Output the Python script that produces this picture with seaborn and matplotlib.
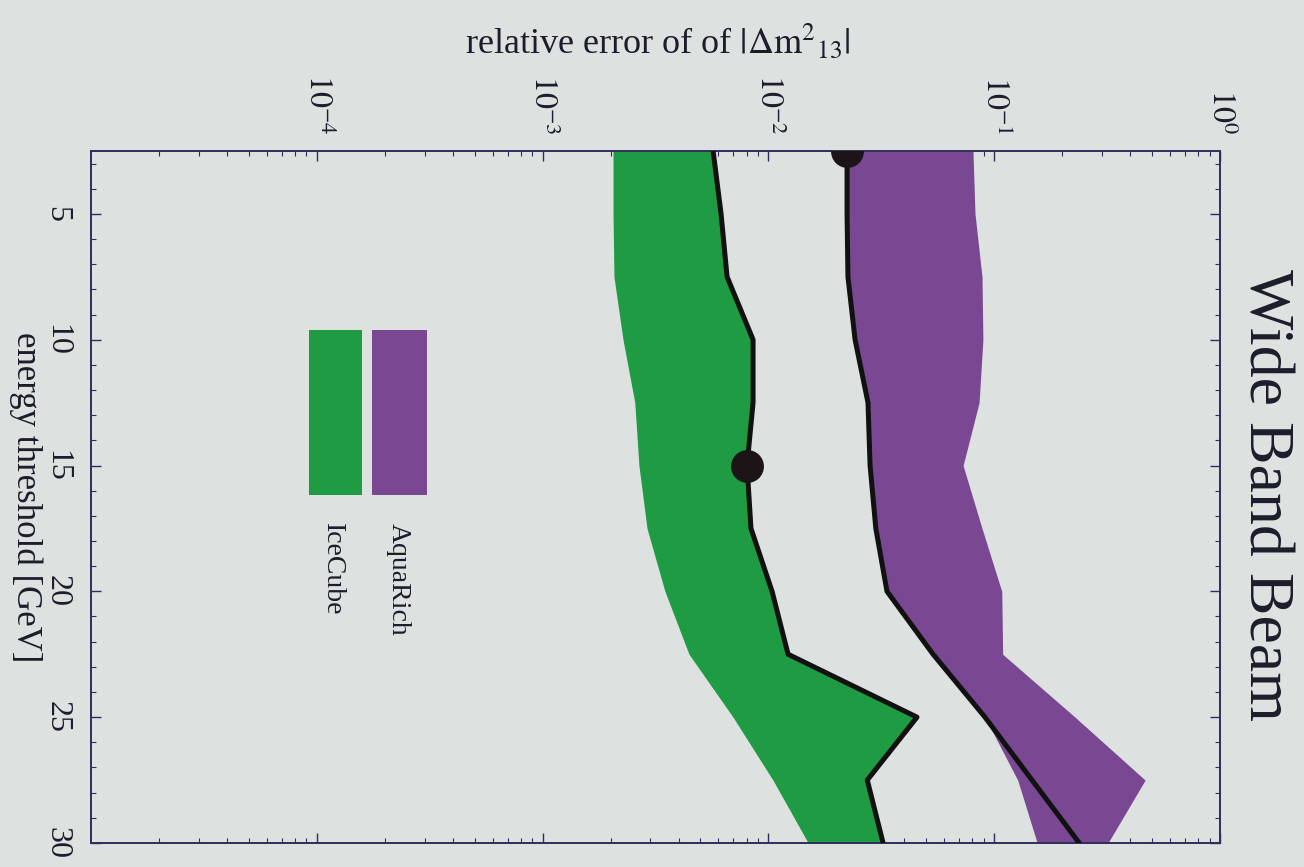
import numpy as np
import pandas as pd
import matplotlib
matplotlib.use("Agg")
import matplotlib.pyplot as plt
from matplotlib.patches import Rectangle
from matplotlib.ticker import FixedLocator, LogLocator, NullFormatter, MultipleLocator, FuncFormatter
import seaborn as sns

# Energy threshold [GeV]
energy = [2.5, 5, 7.5, 10, 12.5, 15, 17.5, 20, 22.5, 25, 27.5, 30]

# IceCube: band of relative errors (upper edge is the traced curve)
icecube_low = [2.05e-3, 2.05e-3, 2.07e-3, 2.27e-3, 2.56e-3, 2.67e-3,
               2.90e-3, 3.48e-3, 4.45e-3, 6.97e-3, 1.047e-2, 1.50e-2]
icecube_high = [5.69e-3, 6.17e-3, 6.56e-3, 8.55e-3, 8.55e-3, 8.04e-3,
                8.37e-3, 1.038e-2, 1.222e-2, 4.55e-2, 2.74e-2, 3.22e-2]

# AquaRich: band of relative errors and the traced curve
aquarich_low = [2.23e-2, 2.23e-2, 2.25e-2, 2.42e-2, 2.76e-2, 2.82e-2,
                2.99e-2, 3.35e-2, 5.36e-2, 9.10e-2, 0.127, 0.155]
aquarich_high = [8.05e-2, 8.22e-2, 8.83e-2, 8.91e-2, 8.57e-2, 7.28e-2,
                 8.83e-2, 0.108, 0.109, 0.228, 0.466, 0.319]
aquarich_line = [2.23e-2, 2.23e-2, 2.25e-2, 2.42e-2, 2.76e-2, 2.82e-2,
                 2.99e-2, 3.35e-2, 5.36e-2, 9.10e-2, 0.147, 0.238]

# highlighted points: (energy, relative error)
icecube_mark = (15, 8.04e-3)
aquarich_mark = (2.5, 2.23e-2)

x_ticks = [1e-4, 1e-3, 1e-2, 1e-1, 1e0]
e_ticks = [5, 10, 15, 20, 25, 30]

green = "#1f9b44"
purple = "#7a4893"
bg = "#dde2e0"
ink = "#1c1c2a"
frame = "#2e2e5c"

sns.set_style("ticks", rc={"axes.facecolor": bg, "figure.facecolor": bg,
                           "axes.edgecolor": frame, "text.color": ink,
                           "axes.labelcolor": ink, "xtick.color": ink,
                           "ytick.color": ink})
plt.rcParams["font.family"] = ["Liberation Serif", "DejaVu Serif"]
plt.rcParams["mathtext.fontset"] = "stix"

fig = plt.figure(figsize=(13.04, 8.67), dpi=100)
ax = fig.add_axes([0.0698, 0.0277, 0.8658, 0.7982])
ax.set_xscale("log")

df_ice = pd.DataFrame({"energy": energy, "low": icecube_low, "high": icecube_high})
df_aqua = pd.DataFrame({"energy": energy, "low": aquarich_low,
                        "high": aquarich_high, "line": aquarich_line})

ax.fill_betweenx(df_ice["energy"], df_ice["low"], df_ice["high"],
                 color=green, lw=0, zorder=1)
ax.fill_betweenx(df_aqua["energy"], df_aqua["low"], df_aqua["high"],
                 color=purple, lw=0, zorder=1)

sns.lineplot(data=df_ice, x="high", y="energy", orient="y", estimator=None,
             color="#111111", lw=3.6, ax=ax, zorder=3)
sns.lineplot(data=df_aqua, x="line", y="energy", orient="y", estimator=None,
             color="#111111", lw=3.6, ax=ax, zorder=3)

ax.scatter([icecube_mark[1], aquarich_mark[1]], [icecube_mark[0], aquarich_mark[0]],
           s=560, color="#1c1416", zorder=4, lw=0)

ax.set_xlim(1e-5, 1)
ax.set_ylim(30, 2.5)

# axes and ticks
ax.xaxis.tick_top()
ax.xaxis.set_major_locator(FixedLocator(x_ticks))
ax.xaxis.set_major_formatter(FuncFormatter(lambda v, p: r"$10^{%d}$" % round(np.log10(v))))
ax.xaxis.set_minor_locator(LogLocator(base=10, subs=np.arange(2, 10)))
ax.xaxis.set_minor_formatter(NullFormatter())
ax.yaxis.set_major_locator(FixedLocator(e_ticks))
ax.yaxis.set_minor_locator(MultipleLocator(1))
ax.tick_params(axis="both", which="both", direction="in", top=True, bottom=True,
               left=True, right=True, color=frame)
ax.tick_params(which="major", length=7, width=1)
ax.tick_params(which="minor", length=3.5, width=0.8)
ax.tick_params(axis="x", which="major", labelsize=23, pad=12, labelrotation=-90)
ax.tick_params(axis="y", which="major", labelsize=23, pad=14, labelrotation=-90)
for lab in ax.get_yticklabels():
    lab.set_va("center")
for sp in ax.spines.values():
    sp.set_linewidth(1.4)
    sp.set_color(frame)

ax.xaxis.set_label_position("top")
ax.set_xlabel(r"relative error of of $|\Delta \mathrm{m}^{2}{}_{13}|$", fontsize=26)
ax.xaxis.label.set_va("center")
ax.xaxis.set_label_coords(0.502, 1.1575)

ax.set_ylabel("energy threshold [GeV]", fontsize=25, rotation=-90)
ax.yaxis.label.set_va("center")
ax.yaxis.label.set_ha("center")
ax.yaxis.set_label_coords(-0.058, 0.5)

# legend swatches
ax.add_patch(Rectangle((0.193, 0.503), 0.047, 0.238, transform=ax.transAxes,
                       color=green, lw=0, zorder=2))
ax.add_patch(Rectangle((0.249, 0.503), 0.049, 0.238, transform=ax.transAxes,
                       color=purple, lw=0, zorder=2))
ax.text(0.2135, 0.462, "IceCube", rotation=-90, ha="center", va="top",
        transform=ax.transAxes, fontsize=20, color=ink)
ax.text(0.272, 0.462, "AquaRich", rotation=-90, ha="center", va="top",
        transform=ax.transAxes, fontsize=20, color=ink)

fig.text(0.970, 0.429, "Wide Band Beam", rotation=-90, ha="center", va="center",
         fontsize=46, color=ink)

fig.savefig("out.png", dpi=100, facecolor=bg)
